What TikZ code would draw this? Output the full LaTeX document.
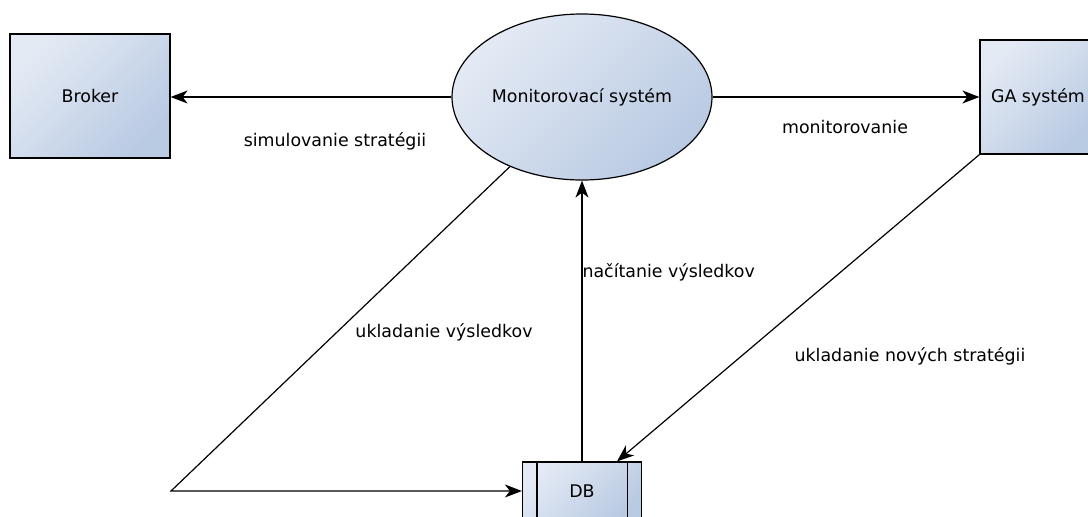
\documentclass[tikz,border=0pt]{standalone}
\usepackage{fontspec}
\setmainfont{DejaVu Sans}
\usetikzlibrary{shapes.geometric,arrows.meta}
\definecolor{boxlight}{HTML}{E4EAF4}
\definecolor{boxdark}{HTML}{B9CAE3}
\tikzset{
  shade/.style={top color=boxlight,bottom color=boxdark,shading angle=45},
  entity/.style={draw,line width=1.2pt,shade,rectangle,inner sep=0pt},
  process/.style={draw,line width=1.2pt,shade,ellipse,inner sep=0pt,
    minimum width=260pt,minimum height=166pt},
  arr/.style={line width=1.2pt,-{Stealth[length=17pt,width=13pt,inset=5pt]}}
}

\begin{document}
\begin{tikzpicture}[x=1pt,y=-1pt,font=\fontsize{17.4}{20}\selectfont]
    \useasboundingbox (0,0) rectangle (1088,517);
    \clip (0,0) rectangle (1088,517);

    \node[entity,minimum width=160pt,minimum height=124pt] (broker) at (90,96) {Broker};
    \node[process] (mon) at (582,97) {Monitorovací systém};
    \node[entity,minimum width=116pt,minimum height=114pt] (ga) at (1038,97) {GA systém};
    \node[entity,minimum width=119pt,minimum height=58pt] (db) at (582,491) {DB};
    \draw[line width=1.2pt] ([xshift=15pt]db.north west) -- ([xshift=15pt]db.south west);
    \draw[line width=1.2pt] ([xshift=-15pt]db.north east) -- ([xshift=-15pt]db.south east);

    \coordinate (bend) at (171,491);

    \draw[arr] (mon.west) -- (mon.west -| broker.east);
    \draw[arr] (mon.east) -- (ga.west);
    \draw[arr] (ga.south west) -- ([xshift=35pt]db.north);
    \draw[arr] (db.north) -- (db.north |- mon.south);
    \draw[arr] (mon.224) -- (bend) -- (db.west);

    \node (l1) at (335,141) {simulovanie stratégii};
    \node (l2) at (845,127) {monitorovanie};
    \node[anchor=west] (l3) at (579,272) {načítanie výsledkov};
    \node (l4) at (444,332) {ukladanie výsledkov};
    \node (l5) at (910,356) {ukladanie nových stratégii};
\end{tikzpicture}
\end{document}
